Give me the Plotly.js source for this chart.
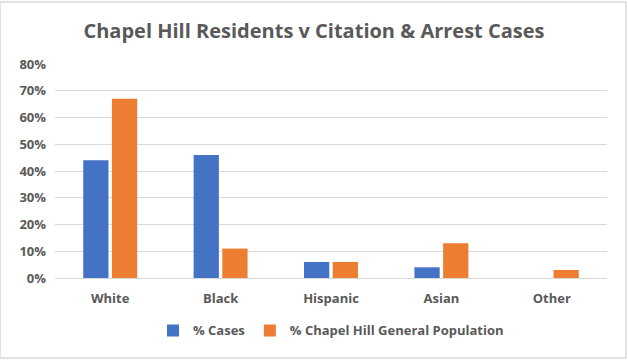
<!DOCTYPE html>
<html>
<head>
<meta charset="utf-8">
<script src="https://cdn.plot.ly/plotly-3.0.1.min.js"></script>
<style>html,body{margin:0;padding:0;background:#fff;}#chart{width:628px;height:360px;}</style>
</head>
<body>
<div id="chart"></div>
<script>
var categories = ["White", "Black", "Hispanic", "Asian", "Other"];
var casesPct = [0.44, 0.46, 0.06, 0.04, 0.0];
var populationPct = [0.67, 0.11, 0.06, 0.13, 0.03];
var seriesNames = ["% Cases", "% Chapel Hill General Population"];
var tickVals = [0, 0.1, 0.2, 0.3, 0.4, 0.5, 0.6, 0.7, 0.8];

var fontFam = "Open Sans, Liberation Sans, sans-serif";
var gray = "#595959";

var data = [
  {type: "bar", x: categories, y: casesPct, name: seriesNames[0],
   marker: {color: "#4472C4"}},
  {type: "bar", x: categories, y: populationPct, name: seriesNames[1],
   marker: {color: "#ED7D31"}}
];

var layout = {
  width: 628, height: 360,
  margin: {l: 55, r: 21, t: 64, b: 82},
  paper_bgcolor: "#fff", plot_bgcolor: "#fff",
  title: {text: "<b>Chapel Hill Residents v Citation &amp; Arrest Cases</b>",
          font: {family: fontFam, size: 20, color: gray},
          x: 0.5, xanchor: "center", y: 0.915, yanchor: "middle"},
  barmode: "group", bargap: 0.48, bargroupgap: 0.12,
  showlegend: true,
  legend: {orientation: "h", x: 0.5, xanchor: "center", y: -0.245, yanchor: "middle",
           font: {family: fontFam, size: 13, color: gray, weight: "bold"}, itemwidth: 30,
           tracegroupgap: 0, traceorder: "normal"},
  xaxis: {showgrid: false, showline: false, ticks: "",
          tickfont: {family: fontFam, size: 13, color: gray, weight: "bold"},
          ticklabelstandoff: 11},
  yaxis: {range: [0, 0.8], tickvals: tickVals, tickformat: ".0%",
          showgrid: true, gridcolor: "#d9d9d9", gridwidth: 1,
          zeroline: true, zerolinecolor: "#d9d9d9", zerolinewidth: 1,
          showline: false, ticks: "",
          tickfont: {family: fontFam, size: 13, color: gray, weight: "bold"},
          ticklabelstandoff: 8},
  font: {family: fontFam, color: gray},
  shapes: [{type: "rect", xref: "paper", yref: "paper",
            x0: -55/552, x1: 1 + 19/552, y0: -80/214, y1: 1 + 62/214,
            line: {color: "#d9d9d9", width: 1.5}}]
};

Plotly.newPlot("chart", data, layout, {displayModeBar: false, staticPlot: true});
</script>
</body>
</html>
